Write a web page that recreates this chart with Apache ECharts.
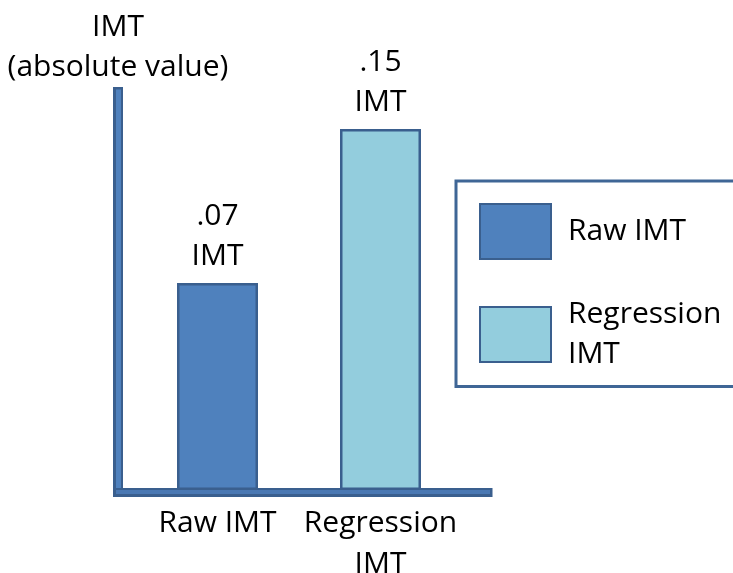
<!DOCTYPE html>
<html><head><meta charset="utf-8">
<script src="https://cdn.jsdelivr.net/npm/echarts@6/dist/echarts.min.js"></script>
<style>html,body{margin:0;padding:0;background:#fff}#c{width:733px;height:573px}</style>
</head><body><div id="c"></div>
<script>
const categories = ['Raw IMT', 'Regression\nIMT'];
const seriesNames = ['Raw IMT', 'Regression\nIMT'];
const rawValues = [0.07, '-'];
const regressionValues = ['-', 0.15];
const valueLabels = ['.07\nIMT', '.15\nIMT'];
const yAxisTitle = 'IMT\n(absolute value)';

const FONT = 'Open Sans';
const FS = 30;
const chart = echarts.init(document.getElementById('c'));
const labelFmt = p => valueLabels[p.dataIndex];
chart.setOption({
  animation: false,
  textStyle: { fontFamily: FONT, color: '#000' },
  grid: [
    { left: 136, top: 92, width: 326, height: 398, outerBoundsMode: 'none', containLabel: false },
    { left: 118, top: 92, width: 370, height: 400, outerBoundsMode: 'none', containLabel: false }
  ],
  legend: {
    orient: 'vertical', left: 456, top: 181,
    data: seriesNames, icon: 'rect',
    itemWidth: 71, itemHeight: 55, itemGap: 34.5,
    padding: [22, 80, 12, 23],
    borderColor: '#3f6696', borderWidth: 3,
    textStyle: { fontFamily: FONT, fontSize: FS, color: '#000', lineHeight: 40, padding: [0, 0, 0, 12] }
  },
  xAxis: [
    { type: 'category', gridIndex: 0, data: categories,
      axisLine: { show: false }, axisTick: { show: false },
      axisLabel: { interval: 0, fontFamily: FONT, fontSize: FS, color: '#000', lineHeight: 41, margin: 13 } },
    { type: 'value', gridIndex: 1, position: 'bottom', min: 0, max: 1,
      axisLine: { show: true, lineStyle: { color: '#3a5f8e', width: 9, cap: 'square' } },
      axisTick: { show: false }, axisLabel: { show: false }, splitLine: { show: false } },
    { type: 'value', gridIndex: 1, position: 'bottom', min: 0, max: 1,
      axisLine: { show: true, lineStyle: { color: '#4a78b3', width: 4, cap: 'square' } },
      axisTick: { show: false }, axisLabel: { show: false }, splitLine: { show: false } }
  ],
  yAxis: [
    { type: 'value', gridIndex: 0, min: -0.0375, max: 0.1692, startValue: -0.0375,
      axisLine: { show: false }, axisTick: { show: false }, axisLabel: { show: false }, splitLine: { show: false } },
    { type: 'value', gridIndex: 1, position: 'left', min: 0, max: 1,
      name: yAxisTitle, nameLocation: 'end', nameGap: 5,
      nameTextStyle: { fontFamily: FONT, fontSize: FS, color: '#000', lineHeight: 40, align: 'center' },
      axisLine: { show: true, lineStyle: { color: '#3a5f8e', width: 10, cap: 'square' } },
      axisTick: { show: false }, axisLabel: { show: false }, splitLine: { show: false } },
    { type: 'value', gridIndex: 1, position: 'left', min: 0, max: 1,
      axisLine: { show: true, lineStyle: { color: '#4f81bd', width: 5, cap: 'square' } },
      axisTick: { show: false }, axisLabel: { show: false }, splitLine: { show: false } }
  ],
  series: [
    { name: seriesNames[0], type: 'bar', xAxisIndex: 0, yAxisIndex: 0, data: rawValues,
      barWidth: 81, barGap: '-100%',
      itemStyle: { color: '#4f81bd', borderColor: '#3a5f8e', borderWidth: 2.5 },
      label: { show: true, position: 'top', distance: 7, formatter: labelFmt,
        fontFamily: FONT, fontSize: FS, color: '#000', lineHeight: 40 } },
    { name: seriesNames[1], type: 'bar', xAxisIndex: 0, yAxisIndex: 0, data: regressionValues,
      barWidth: 81, barGap: '-100%',
      itemStyle: { color: '#93cddd', borderColor: '#3a5f8e', borderWidth: 2.5 },
      label: { show: true, position: 'top', distance: 7, formatter: labelFmt,
        fontFamily: FONT, fontSize: FS, color: '#000', lineHeight: 40 } }
  ]
});
</script></body></html>
